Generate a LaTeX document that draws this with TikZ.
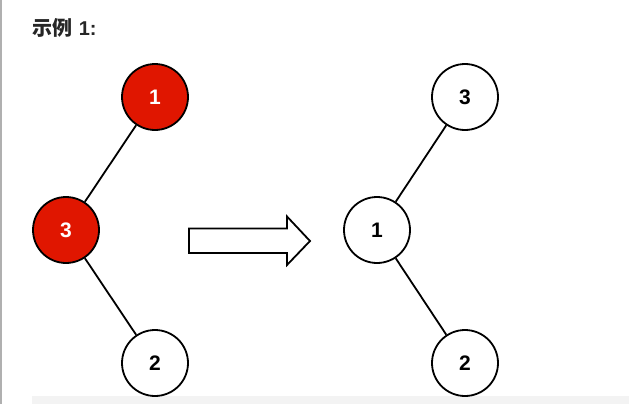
\documentclass[tikz,border=0pt]{standalone}
\usepackage{fontspec}
\setmainfont{Liberation Sans}
\newfontfamily\cjk{Noto Sans CJK SC}
\definecolor{nodered}{RGB}{224,22,0}
\definecolor{bandgray}{RGB}{243,243,243}
\definecolor{edgegray}{RGB}{176,176,176}
\definecolor{titleink}{RGB}{38,38,38}
\begin{document}
\begin{tikzpicture}[
  x=1pt, y=-1pt,
  every node/.style={font=\fontsize{21}{24}\selectfont\bfseries},
  vertex/.style={circle, draw, line width=1.8pt, minimum size=66pt, inner sep=0pt, fill=white},
  hot/.style={vertex, fill=nodered, text=white},
  edge/.style={line width=1.8pt},
]
\useasboundingbox (0,0) rectangle (629,404);
% Frame
\fill[bandgray] (32,396) rectangle (629,404);
\fill[edgegray] (0,0) rectangle (2,404);

% Title
\node[anchor=west, inner sep=0pt, text=titleink, font=\fontsize{20}{22}\selectfont\bfseries] (title) at (32,28) {{\cjk 示例}\hspace{1pt} 1:};

% Left tree
\node[hot] (la) at (155,97) {1};
\node[hot] (lc) at (66,230) {3};
\node[vertex] (lb) at (155,363) {2};

% Right tree
\node[vertex] (rc) at (465,97) {3};
\node[vertex] (ra) at (377,230) {1};
\node[vertex] (rb) at (465,363) {2};

% Edges
\draw[edge] (la) -- (lc);
\draw[edge] (lc) -- (lb);
\draw[edge] (rc) -- (ra);
\draw[edge] (ra) -- (rb);

% Arrow
\draw[line width=1.8pt, fill=white, line join=miter]
  (189,228.5) -- (287,228.5) -- (287,216.5) -- (310,241) -- (287,265)
  -- (287,253) -- (189,253) -- cycle;
\end{tikzpicture}
\end{document}
